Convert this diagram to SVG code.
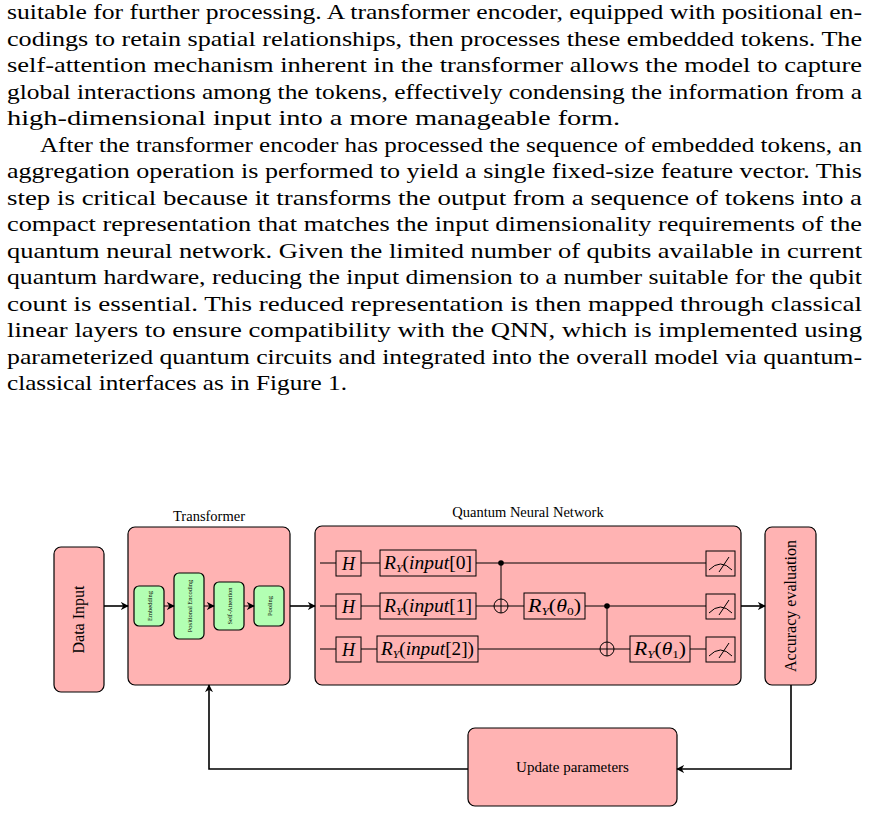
<svg xmlns="http://www.w3.org/2000/svg" width="869" height="815" viewBox="0 0 869 815">
<style>
.p{font-family:"Liberation Serif","DejaVu Serif",serif;font-size:21px;fill:#000}
.t{font-family:"Liberation Serif","DejaVu Serif",serif;fill:#000}
.pk{fill:#ffb3b3;stroke:#000;stroke-width:1.2}
.gr{fill:#b3ffb3;stroke:#000;stroke-width:1.2}
.g{fill:#ffb3b3;stroke:#000;stroke-width:1}
.w{stroke:#000;stroke-width:1;fill:none}
.c{stroke:#000;stroke-width:1.6;fill:none}
</style>
<defs>
<marker id="a" viewBox="0 0 10 10" refX="9" refY="5" markerWidth="8" markerHeight="8" markerUnits="userSpaceOnUse" orient="auto"><path d="M0,0 L10,5 L0,10 L3,5 z" fill="#000"/></marker>
<g id="meter"><rect x="0" y="0" width="29" height="25" class="g"/><path d="M3,19 Q14.5,7 26,19 M13,21 L23,6" class="w"/></g>
</defs>
<rect width="869" height="815" fill="#fff"/>
<g id="text" class="p">
<text x="7" y="19" textLength="855" lengthAdjust="spacingAndGlyphs">suitable for further processing. A transformer encoder, equipped with positional en-</text>
<text x="7" y="45.5" textLength="855" lengthAdjust="spacingAndGlyphs">codings to retain spatial relationships, then processes these embedded tokens. The</text>
<text x="7" y="72" textLength="855" lengthAdjust="spacingAndGlyphs">self-attention mechanism inherent in the transformer allows the model to capture</text>
<text x="7" y="98.5" textLength="855" lengthAdjust="spacingAndGlyphs">global interactions among the tokens, effectively condensing the information from a</text>
<text x="7" y="125" textLength="613" lengthAdjust="spacingAndGlyphs">high-dimensional input into a more manageable form.</text>
<text x="40" y="151.5" textLength="822" lengthAdjust="spacingAndGlyphs">After the transformer encoder has processed the sequence of embedded tokens, an</text>
<text x="7" y="178" textLength="855" lengthAdjust="spacingAndGlyphs">aggregation operation is performed to yield a single fixed-size feature vector. This</text>
<text x="7" y="204.5" textLength="855" lengthAdjust="spacingAndGlyphs">step is critical because it transforms the output from a sequence of tokens into a</text>
<text x="7" y="231" textLength="855" lengthAdjust="spacingAndGlyphs">compact representation that matches the input dimensionality requirements of the</text>
<text x="7" y="257.5" textLength="855" lengthAdjust="spacingAndGlyphs">quantum neural network. Given the limited number of qubits available in current</text>
<text x="7" y="284" textLength="855" lengthAdjust="spacingAndGlyphs">quantum hardware, reducing the input dimension to a number suitable for the qubit</text>
<text x="7" y="310.5" textLength="855" lengthAdjust="spacingAndGlyphs">count is essential. This reduced representation is then mapped through classical</text>
<text x="7" y="337" textLength="855" lengthAdjust="spacingAndGlyphs">linear layers to ensure compatibility with the QNN, which is implemented using</text>
<text x="7" y="363.5" textLength="855" lengthAdjust="spacingAndGlyphs">parameterized quantum circuits and integrated into the overall model via quantum-</text>
<text x="7" y="390" textLength="340" lengthAdjust="spacingAndGlyphs">classical interfaces as in Figure 1.</text>
</g>
<g id="data-input">
<rect x="54" y="547" width="50" height="145" rx="7" class="pk"/>
<text class="t" font-size="16" text-anchor="middle" transform="translate(84,619.5) rotate(-90)">Data Input</text>
</g>
<g id="transformer">
<text class="t" x="209" y="521" font-size="14.5" text-anchor="middle">Transformer</text>
<rect x="128" y="527" width="162" height="158" rx="7" class="pk"/>
</g>
<g id="embedding"><rect x="134" y="586" width="30" height="40" rx="5" class="gr"/><text class="t" font-size="6.5" text-anchor="middle" transform="translate(151.5,606) rotate(-90)">Embedding</text></g>
<g id="posenc"><rect x="174" y="573" width="30" height="66" rx="5" class="gr"/><text class="t" font-size="6.5" text-anchor="middle" transform="translate(191.5,606) rotate(-90)">Positional Encoding</text></g>
<g id="selfatt"><rect x="214" y="582" width="30" height="48" rx="5" class="gr"/><text class="t" font-size="6.5" text-anchor="middle" transform="translate(231.5,606) rotate(-90)">Self-Attention</text></g>
<g id="pooling"><rect x="254" y="586" width="30" height="40" rx="5" class="gr"/><text class="t" font-size="6.5" text-anchor="middle" transform="translate(271.5,606) rotate(-90)">Pooling</text></g>
<g id="qnn">
<text class="t" x="528" y="517" font-size="14.5" text-anchor="middle">Quantum Neural Network</text>
<rect x="315" y="526" width="426" height="159" rx="7" class="pk"/>
<path class="w" d="M320,563 H706 M320,606 H706 M320,649 H706"/>
<circle cx="501" cy="606" r="7" class="g"/>
<circle cx="607" cy="649" r="7" class="g"/>
<path class="w" d="M494,606 H508 M501,563 V613 M600,649 H614 M607,606 V656"/>
<circle cx="501" cy="563" r="2.8"/>
<circle cx="607" cy="606" r="2.8"/>
<g class="t" font-size="18">
<rect x="336" y="551" width="25" height="25" class="g"/><text x="348.5" y="570" text-anchor="middle" font-style="italic">H</text>
<rect x="336" y="594" width="25" height="25" class="g"/><text x="348.5" y="613" text-anchor="middle" font-style="italic">H</text>
<rect x="336" y="637" width="25" height="25" class="g"/><text x="348.5" y="656" text-anchor="middle" font-style="italic">H</text>
<rect x="380" y="550" width="96" height="26" class="g"/><text x="384" y="569" textLength="88" lengthAdjust="spacingAndGlyphs"><tspan font-style="italic">R</tspan><tspan font-size="11" font-style="italic" dy="3">Y</tspan><tspan dy="-3">(</tspan><tspan font-style="italic">input</tspan>[0]</text>
<rect x="380" y="593" width="96" height="26" class="g"/><text x="384" y="612" textLength="88" lengthAdjust="spacingAndGlyphs"><tspan font-style="italic">R</tspan><tspan font-size="11" font-style="italic" dy="3">Y</tspan><tspan dy="-3">(</tspan><tspan font-style="italic">input</tspan>[1]</text>
<rect x="377" y="636" width="101" height="26" class="g"/><text x="381" y="655" textLength="93" lengthAdjust="spacingAndGlyphs"><tspan font-style="italic">R</tspan><tspan font-size="11" font-style="italic" dy="3">Y</tspan><tspan dy="-3">(</tspan><tspan font-style="italic">input</tspan>[2])</text>
<rect x="524" y="593" width="61" height="26" class="g"/><text x="528" y="612" textLength="53" lengthAdjust="spacingAndGlyphs"><tspan font-style="italic">R</tspan><tspan font-size="11" font-style="italic" dy="3">Y</tspan><tspan dy="-3">(</tspan><tspan font-style="italic">θ</tspan><tspan font-size="11" dy="3">0</tspan><tspan dy="-3">)</tspan></text>
<rect x="630" y="636" width="60" height="26" class="g"/><text x="634" y="655" textLength="52" lengthAdjust="spacingAndGlyphs"><tspan font-style="italic">R</tspan><tspan font-size="11" font-style="italic" dy="3">Y</tspan><tspan dy="-3">(</tspan><tspan font-style="italic">θ</tspan><tspan font-size="11" dy="3">1</tspan><tspan dy="-3">)</tspan></text>
</g>
<use href="#meter" x="706" y="551"/>
<use href="#meter" x="706" y="594"/>
<use href="#meter" x="706" y="637"/>
</g>
<g id="accuracy">
<rect x="765" y="527" width="51" height="158" rx="7" class="pk"/>
<text class="t" font-size="16" text-anchor="middle" transform="translate(796,606) rotate(-90)">Accuracy evaluation</text>
</g>
<g id="update">
<rect x="468" y="728" width="209" height="78" rx="7" class="pk"/>
<text class="t" x="572.5" y="772" font-size="15" text-anchor="middle">Update parameters</text>
</g>
<g id="connectors" class="c" marker-end="url(#a)">
<path d="M104,606 H128"/>
<path d="M164,606 H174" stroke-width="1"/>
<path d="M204,606 H214" stroke-width="1"/>
<path d="M244,606 H254" stroke-width="1"/>
<path d="M290,606 H315"/>
<path d="M741,606 H765"/>
<path d="M791,685 V769 H677"/>
<path d="M468,769 H209 V685"/>
</g>
</svg>
